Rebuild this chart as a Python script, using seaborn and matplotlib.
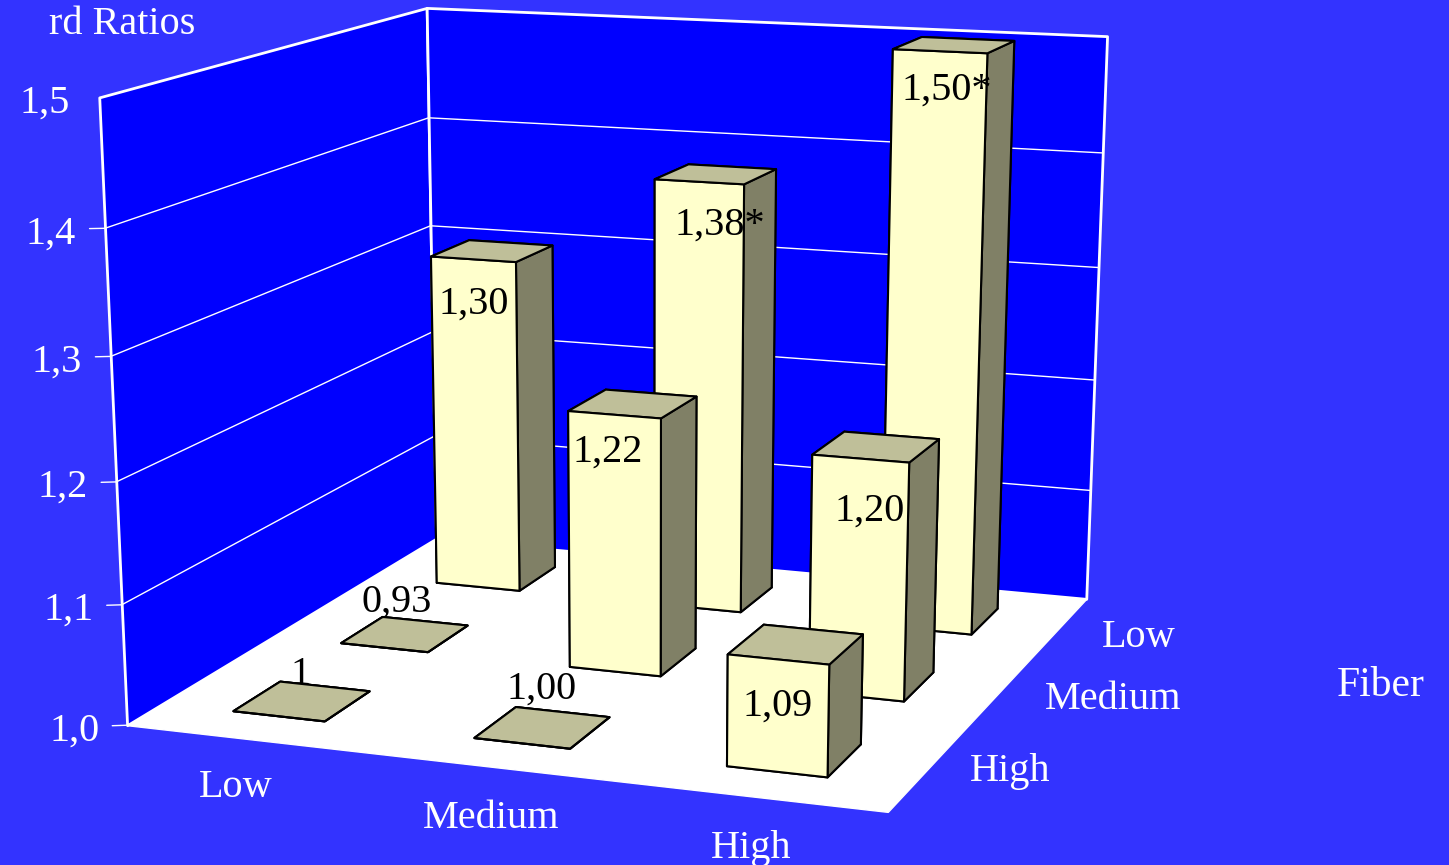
import numpy as np
import matplotlib
matplotlib.use('Agg')
import matplotlib.pyplot as plt
import seaborn as sns
from mpl_toolkits.mplot3d import proj3d
from mpl_toolkits.mplot3d.art3d import Poly3DCollection

# Values, rows run front to back, columns left to right
toxin_levels = ['Low', 'Medium', 'High']
fiber_levels = ['High', 'Medium', 'Low']
fiber_high = [1.00, 1.00, 1.09]
fiber_medium = [0.93, 1.22, 1.20]
fiber_low = [1.30, 1.38, 1.50]
labels_high = ['1', '1,00', '1,09']
labels_medium = ['0,93', '1,22', '1,20']
labels_low = ['1,30', '1,38*', '1,50*']
z_ticks = [1.0, 1.1, 1.2, 1.3, 1.4, 1.5]
z_tick_labels = ['1,0', '1,1', '1,2', '1,3', '1,4', '1,5']

W, H = 1449, 865
BG = '#3333FF'
WALL = '#0000FF'
FRONT = '#FFFFCC'
SIDE = '#808066'
TOP = '#BFBF99'
FS = 29

# camera calibration: box corners (x, y, z) and where they sit in the image
cal_box = np.array([
    [0, 0, 1.0], [3, 0, 1.0], [3, 3, 1.0], [0, 3, 1.0],
    [0, 0, 1.5], [0, 3, 1.5], [3, 3, 1.5],
    [0, 0, 1.4], [0, 3, 1.4], [0, 3, 1.3], [3, 3, 1.4], [3, 3, 1.3], [3, 3, 1.2], [3, 3, 1.1],
    [0, 0, 1.3], [0, 0, 1.2], [0, 0, 1.1],
])
cal_px = np.array([
    [127, 723], [888, 813], [1087, 598], [436, 540],
    [99, 97], [427, 7], [1107, 36],
    [105, 228], [428, 118], [431, 226], [1103, 154], [1098, 267], [1094, 380], [1090, 490],
    [112, 358], [116, 482], [121, 605],
], float)

sns.set_theme(style='white')
plt.rcParams['font.family'] = ['Liberation Serif', 'DejaVu Serif']

fig = plt.figure(figsize=(W / 100, H / 100), dpi=100, facecolor=BG)
S = 1600
ax = fig.add_axes([(W - S) / 2 / W, (H - S) / 2 / H, S / W, S / H], projection='3d')
ax.set_axis_off()
ax.patch.set_visible(False)
ax.computed_zorder = False
ax.apply_aspect()


def fit_camera():
    # direct linear transform from box coordinates to display pixels
    u = (cal_px[:, 0] - W / 2) / 1000
    v = (H - cal_px[:, 1] - H / 2) / 1000
    rows = []
    for (x, y, z), a, b in zip(cal_box, u, v):
        rows.append([x, y, z, 1, 0, 0, 0, 0, -a * x, -a * y, -a * z, -a])
        rows.append([0, 0, 0, 0, x, y, z, 1, -b * x, -b * y, -b * z, -b])
    P = np.linalg.svd(np.array(rows))[2][-1].reshape(3, 4)
    if P[2] @ [1.5, 1.5, 1.25, 1] < 0:
        P = -P
    to_display = np.array([[1000, 0, W / 2], [0, 1000, H / 2], [0, 0, 1]])
    to_axes = ax.transData.inverted().get_matrix()
    P = to_axes @ to_display @ P
    w = P[2] @ [1.5, 1.5, 1.25, 1]
    P = P / w
    return np.array([P[0], P[1], [0, 0, 0, -1], P[2]])


cam = fit_camera()
ax.get_proj = lambda: cam
ax.M = cam


def label3d(x, y, z, text, **kw):
    # text stays flat, only its anchor goes through the camera
    sx, sy, _ = proj3d.proj_transform(x, y, z, cam)
    ax.text2D(sx, sy, text, transform=ax.transData, fontsize=FS, va='center', **kw)


# floor and walls
floor = [[(0, 0, 1.0), (3, 0, 1.0), (3, 3, 1.0), (0, 3, 1.0)]]
left_wall = [[(0, 0, 1.0), (0, 3, 1.0), (0, 3, 1.5), (0, 0, 1.5)]]
back_wall = [[(0, 3, 1.0), (3, 3, 1.0), (3, 3, 1.5), (0, 3, 1.5)]]
ax.add_collection3d(Poly3DCollection(floor, facecolors='white', edgecolors='white', linewidths=1, zorder=1))
for wall in (left_wall, back_wall):
    ax.add_collection3d(Poly3DCollection(wall, facecolors=WALL, edgecolors='white', linewidths=2, zorder=2))

# gridlines and ticks
for z in z_ticks[1:-1]:
    ax.plot([0, 0, 3], [0, 3, 3], [z, z, z], color='white', lw=1, zorder=3)
for z, lab in zip(z_ticks, z_tick_labels):
    if z < 1.5:
        ax.plot([-0.05, 0], [-0.025, 0], [z, z], color='white', lw=1, zorder=3)
    label3d(-0.095, -0.047, z - 0.004, lab, color='white', ha='right', zorder=9)

# bars, back row first so the front ones cover them
rows = [fiber_high, fiber_medium, fiber_low]
row_labels = [labels_high, labels_medium, labels_low]
# label shift from the top of the front face: along x, along z
label_shift = [
    [(0.095, 0.037), (0.08, 0.046), (0.0, -0.037)],
    [(0.06, 0.042), (-0.03, -0.032), (0.04, -0.043)],
    [(0.0, -0.04), (0.09, -0.036), (0.03, -0.032)],
]
bar_w, bar_d = 0.385, 0.42
off_x, off_y = 0.30, 0.30
zo = 4
for j in (2, 1, 0):
    for i in range(3):
        height = max(rows[j][i] - 1.0, 0)
        bars = ax.bar3d(i + off_x, j + off_y, 1.0, bar_w, bar_d, height,
                        color=[TOP, TOP, FRONT, SIDE, SIDE, SIDE], shade=False,
                        edgecolor='black', linewidth=1.5)
        bars.set_zorder(zo)
        zo += 0.01
        dx, dz = label_shift[j][i]
        label3d(i + off_x + bar_w / 2 + dx, j + off_y, 1.0 + height + dz, row_labels[j][i],
                color='black', ha='center', zorder=10)

# category labels under the floor
toxin_label_x = [0.72, 1.71, 2.67]
fiber_label_x = [3.29, 3.44, 3.34]
fiber_label_y = [0.59, 1.60, 2.49]
for x, lab in zip(toxin_label_x, toxin_levels):
    label3d(x, -0.54, 1.0, lab, color='white', ha='center', zorder=9)
for x, y, lab in zip(fiber_label_x, fiber_label_y, fiber_levels):
    label3d(x, y, 1.0, lab, color='white', ha='center', zorder=9)

fig.text(122 / W, 1 - 25 / H, 'rd Ratios', color='white', fontsize=FS, ha='center', va='center')
fig.text(1381 / W, 1 - 686 / H, 'Fiber', color='white', fontsize=FS + 1, ha='center', va='center')

ax.set_xlim(0, 3)
ax.set_ylim(0, 3)
ax.set_zlim(1.0, 1.5)

plt.savefig('out.png', dpi=100)
